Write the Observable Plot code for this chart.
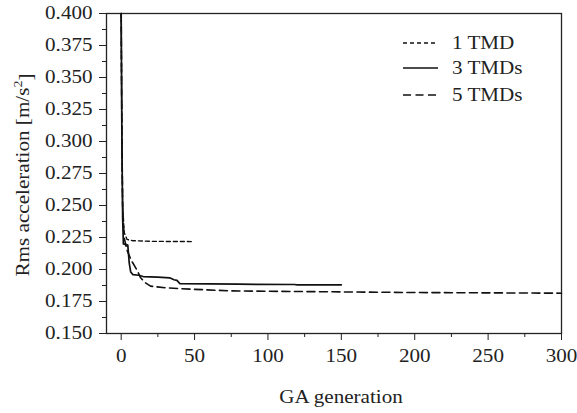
<!DOCTYPE html>
<html><head><meta charset="utf-8">
<script src="https://cdn.jsdelivr.net/npm/d3@7"></script>
<script src="https://cdn.jsdelivr.net/npm/@observablehq/plot@0.6"></script>
<style>body{margin:0;background:#fff}</style>
</head><body><div id="chart"></div>
<script>
const seriesNames = ["1 TMD", "3 TMDs", "5 TMDs"];

const gen1 = [0, 0.5, 1, 2, 4, 8, 20, 49];
const rms1 = [0.400, 0.300, 0.250, 0.229, 0.2235, 0.2225, 0.222, 0.2218];

const gen3 = [0, 0.5, 1, 1.5, 4.5, 5.5, 6.5, 8, 12, 15, 25, 33, 36, 38, 40, 60, 80, 118, 120, 150];
const rms3 = [0.400, 0.300, 0.240, 0.220, 0.219, 0.205, 0.198, 0.196, 0.1955, 0.1945, 0.194, 0.1935, 0.192, 0.1915, 0.189, 0.1888, 0.1885, 0.1883, 0.188, 0.188];

const gen5 = [0, 0.5, 1, 2, 4, 7, 9, 11, 13, 16, 20, 30, 50, 75, 100, 150, 200, 300];
const rms5 = [0.400, 0.300, 0.250, 0.225, 0.215, 0.207, 0.203, 0.199, 0.194, 0.190, 0.187, 0.1857, 0.1845, 0.1833, 0.183, 0.1825, 0.182, 0.1815];

const xTicks = [0, 50, 100, 150, 200, 250, 300];
const xMinor = [25, 75, 125, 175, 225, 275];
const yTicks = [0.150, 0.175, 0.200, 0.225, 0.250, 0.275, 0.300, 0.325, 0.350, 0.375, 0.400];
const yMinor = [0.1625, 0.1875, 0.2125, 0.2375, 0.2625, 0.2875, 0.3125, 0.3375, 0.3625, 0.3875];
const xLabel = "GA generation";
const yLabelMain = "Rms acceleration [m/s";
const yLabelSup = "2";
const yLabelEnd = "]";

const toRows = (g, v) => g.map((x, i) => ({x, y: v[i]}));
const rows = [toRows(gen1, rms1), toRows(gen3, rms3), toRows(gen5, rms5)];
const dash = ["4,3", null, "8,4.5"];
const sw = [1.4, 1.7, 1.6];

const font = "'Liberation Serif', 'Times New Roman', serif";
const fs = 18.5;
const stretch = 1.14;

const chart = Plot.plot({
  width: 577, height: 413,
  marginLeft: 106, marginRight: 16, marginTop: 13, marginBottom: 80,
  style: {fontFamily: font, fontSize: fs + "px", color: "#222", background: "#fff"},
  x: {domain: [-10, 300]},
  y: {domain: [0.150, 0.400]},
  marks: [
    Plot.frame({stroke: "#222", strokeWidth: 1.3}),
    Plot.axisX(xTicks, {tickSize: 7, tickPadding: 8, label: null, fontSize: fs, stroke: "#222"}),
    Plot.axisX(xMinor, {tickSize: 4, tickFormat: () => "", label: null, stroke: "#222"}),
    Plot.axisY(yTicks, {tickSize: 7, tickPadding: 7, label: null, tickFormat: d3.format(".3f"), fontSize: fs, stroke: "#222"}),
    Plot.axisY(yMinor, {tickSize: 4, tickFormat: () => "", label: null, stroke: "#222"}),
    ...rows.map((r, i) => Plot.line(r, {x: "x", y: "y", stroke: "#111", strokeWidth: sw[i], strokeDasharray: dash[i]})),
    Plot.text([xLabel], {text: d => d, frameAnchor: "bottom", lineAnchor: "middle", textAnchor: "middle", dy: 64, dx: 7, fontSize: fs, fill: "#222"})
  ]
});
document.getElementById("chart").appendChild(chart);

const svg = d3.select(chart);

// legend inside the plot, top right
const legY = [43, 68, 95];
const lg = svg.append("g").attr("font-family", font).attr("font-size", fs).attr("text-anchor", "start");
seriesNames.forEach((name, i) => {
  lg.append("line").attr("x1", 403).attr("x2", 438).attr("y1", legY[i]).attr("y2", legY[i])
    .attr("stroke", "#111").attr("stroke-width", sw[i]).attr("stroke-dasharray", dash[i]);
  lg.append("text").attr("x", 452).attr("y", legY[i]).attr("dy", "0.35em").attr("fill", "#222").text(name);
});

// the reference's lettering is slightly wide: stretch horizontal texts
svg.selectAll("text").each(function() {
  const len = this.getComputedTextLength();
  if (len > 0) d3.select(this).attr("textLength", len * stretch).attr("lengthAdjust", "spacingAndGlyphs");
});

// rotated y label with superscript
const yl = svg.append("text")
  .attr("transform", "translate(22,175) rotate(-90)")
  .attr("text-anchor", "middle").attr("dy", "0.35em")
  .attr("textLength", 203).attr("lengthAdjust", "spacingAndGlyphs")
  .attr("font-family", font).attr("font-size", 19.5).attr("fill", "#222");
yl.append("tspan").text(yLabelMain);
yl.append("tspan").attr("font-size", 13).attr("dy", "-0.55em").text(yLabelSup);
yl.append("tspan").attr("dy", "0.55em").text(yLabelEnd);
</script>
</body></html>
